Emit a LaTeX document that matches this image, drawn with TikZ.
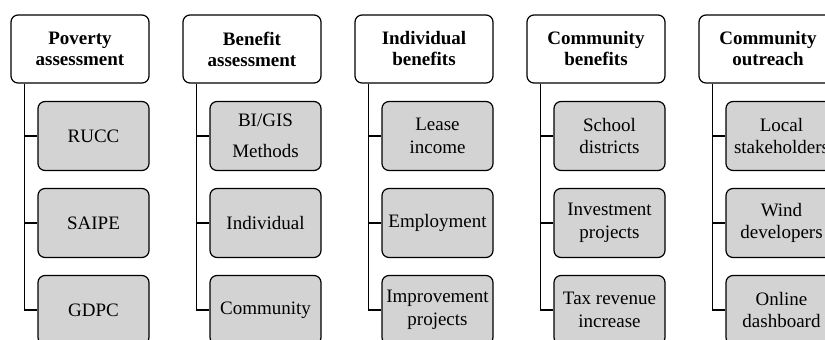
\documentclass[tikz,border=0pt]{standalone}
\usepackage{fontspec}
\setmainfont{Liberation Serif}
\definecolor{boxgray}{RGB}{211,211,211}

\begin{document}
\begin{tikzpicture}[x=1pt, y=-1pt, line width=1.2pt,
    head/.style={draw, rounded corners=7pt, fill=white, minimum width=138pt, minimum height=68pt,
      align=center, font=\bfseries\fontsize{19}{21}\selectfont, inner sep=0pt},
    item/.style={draw, rounded corners=7pt, fill=boxgray, minimum width=111pt, minimum height=69pt,
      align=center, font=\fontsize{19}{22.5}\selectfont, inner sep=0pt}]
  \useasboundingbox (0,0) rectangle (825,340);
  \clip (0,0) rectangle (825,340);
  % header boxes
  \node[head] (pov) at (80,49) {Poverty\\assessment};
  \node[head] (ben) at (252,49) {Benefit\\assessment};
  \node[head] (ind) at (424,49) {Individual\\benefits};
  \node[head] (com) at (596,49) {Community\\benefits};
  \node[head] (out) at (768,49) {Community\\outreach};
  % child boxes
  \node[item] (pov1) at (93.5,136) {RUCC};
  \node[item] (pov2) at (93.5,223) {SAIPE};
  \node[item] (pov3) at (93.5,310) {GDPC};
  \node[item] (ben1) at (265.5,136) {BI/GIS\\[9pt]Methods};
  \node[item] (ben2) at (265.5,223) {Individual};
  \node[item] (ben3) at (265.5,310) {Community};
  \node[item] (ind1) at (437.5,136) {Lease\\income};
  \node[item] (ind2) at (437.5,223) {Employment};
  \node[item] (ind3) at (437.5,310) {Improvement\\projects};
  \node[item] (com1) at (609.5,136) {School\\districts};
  \node[item] (com2) at (609.5,223) {Investment\\projects};
  \node[item] (com3) at (609.5,310) {Tax revenue\\increase};
  \node[item] (out1) at (781.5,136) {Local\\stakeholders};
  \node[item] (out2) at (781.5,223) {Wind\\developers};
  \node[item] (out3) at (781.5,310) {Online\\dashboard};
  % connectors
  \draw ([xshift=14pt]pov.south west) |- (pov1.west);
  \draw ([xshift=14pt]pov.south west) |- (pov2.west);
  \draw ([xshift=14pt]pov.south west) |- (pov3.west);
  \draw ([xshift=14pt]ben.south west) |- (ben1.west);
  \draw ([xshift=14pt]ben.south west) |- (ben2.west);
  \draw ([xshift=14pt]ben.south west) |- (ben3.west);
  \draw ([xshift=14pt]ind.south west) |- (ind1.west);
  \draw ([xshift=14pt]ind.south west) |- (ind2.west);
  \draw ([xshift=14pt]ind.south west) |- (ind3.west);
  \draw ([xshift=14pt]com.south west) |- (com1.west);
  \draw ([xshift=14pt]com.south west) |- (com2.west);
  \draw ([xshift=14pt]com.south west) |- (com3.west);
  \draw ([xshift=14pt]out.south west) |- (out1.west);
  \draw ([xshift=14pt]out.south west) |- (out2.west);
  \draw ([xshift=14pt]out.south west) |- (out3.west);
\end{tikzpicture}
\end{document}
